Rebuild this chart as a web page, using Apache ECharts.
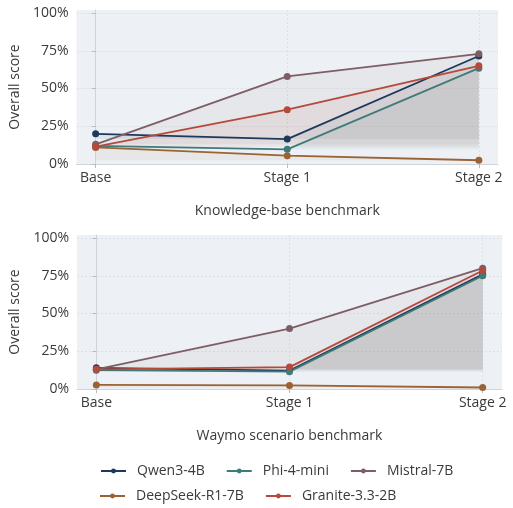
<!DOCTYPE html>
<html>
<head>
<meta charset="utf-8">
<script src="https://cdn.jsdelivr.net/npm/echarts@6/dist/echarts.min.js"></script>
<style>html,body{margin:0;padding:0;background:#fff}#c{width:513px;height:508px}</style>
</head>
<body>
<div id="c"></div>
<script>
const categories = ['Base', 'Stage 1', 'Stage 2'];
const models = ['Qwen3-4B', 'Phi-4-mini', 'Mistral-7B', 'DeepSeek-R1-7B', 'Granite-3.3-2B'];
const colors = ['#1d3a5c', '#3f7b79', '#7f5d66', '#9b6334', '#b5493c'];
const yTicks = [0, 0.25, 0.5, 0.75, 1];

// Knowledge-base benchmark
const kbQwen = [0.20, 0.165, 0.715];
const kbPhi = [0.12, 0.097, 0.635];
const kbMistral = [0.13, 0.58, 0.73];
const kbDeepSeek = [0.11, 0.055, 0.025];
const kbGranite = [0.115, 0.36, 0.65];

// Waymo scenario benchmark
const wmQwen = [0.14, 0.122, 0.76];
const wmPhi = [0.125, 0.115, 0.75];
const wmMistral = [0.13, 0.40, 0.80];
const wmDeepSeek = [0.027, 0.024, 0.01];
const wmGranite = [0.13, 0.145, 0.785];

const kbData = [kbQwen, kbPhi, kbMistral, kbDeepSeek, kbGranite];
const wmData = [wmQwen, wmPhi, wmMistral, wmDeepSeek, wmGranite];

const FONT = 'Open Sans';
const TXT = '#3a3a3a';

function xAxisCfg(gi, name) {
  return {
    type: 'value', gridIndex: gi, min: -0.1, max: 2.1,
    name: name, nameLocation: 'middle', nameGap: 40,
    nameTextStyle: {fontFamily: FONT, fontSize: 14, color: TXT},
    axisLine: {show: true, lineStyle: {color: '#d0d4da', width: 1}},
    axisTick: {show: true, length: 4, customValues: [0, 1, 2], lineStyle: {color: '#b8bcc2'}},
    axisLabel: {customValues: [0, 1, 2], formatter: v => categories[Math.round(v)], margin: 7,
      fontFamily: FONT, fontSize: 14, color: TXT},
    splitLine: {show: true, lineStyle: {color: '#dde1e7', type: [2, 2]}}
  };
}
function yAxisCfg(gi) {
  return {
    type: 'value', gridIndex: gi, min: 0, max: 1.02,
    name: 'Overall score', nameLocation: 'middle', nameGap: 47,
    nameTextStyle: {fontFamily: FONT, fontSize: 14, color: TXT},
    axisLine: {show: true, lineStyle: {color: '#d0d4da', width: 1}},
    axisTick: {show: true, length: 4, customValues: yTicks, lineStyle: {color: '#b8bcc2'}},
    axisLabel: {customValues: yTicks, formatter: v => Math.round(v * 100) + '%', margin: 8,
      fontFamily: FONT, fontSize: 14, color: TXT},
    splitLine: {show: true, lineStyle: {color: '#dde1e7', type: [2, 2]}}
  };
}
function makeSeries(data, gi) {
  return data.map((vals, i) => ({
    name: models[i], type: 'line', xAxisIndex: gi, yAxisIndex: gi,
    data: vals.map((v, k) => [k, v]),
    symbol: 'circle', symbolSize: 7,
    lineStyle: {width: 1.8, color: colors[i]},
    itemStyle: {color: colors[i]},
    areaStyle: {color: colors[i], opacity: 0.07, origin: Math.min(...vals)},
    emphasis: {disabled: true}
  }));
}

const legendText = {fontFamily: FONT, fontSize: 14, color: TXT, padding: [0, 0, 0, 6]};
const chart = echarts.init(document.getElementById('c'), null, {renderer: 'canvas'});
chart.setOption({
  animation: false,
  grid: [
    {left: 74, top: 10, width: 424, height: 154, show: true, backgroundColor: '#edf1f5', borderWidth: 0},
    {left: 77, top: 235, width: 425, height: 154, show: true, backgroundColor: '#edf1f5', borderWidth: 0}
  ],
  xAxis: [xAxisCfg(0, 'Knowledge-base benchmark'), xAxisCfg(1, 'Waymo scenario benchmark')],
  yAxis: [yAxisCfg(0), yAxisCfg(1)],
  legend: [
    {data: models.slice(0, 3), left: 95, top: 459, itemWidth: 25, itemHeight: 6, itemGap: 21, textStyle: legendText},
    {data: models.slice(3), left: 94, top: 484, itemWidth: 25, itemHeight: 6, itemGap: 21, textStyle: legendText}
  ],
  series: makeSeries(kbData, 0).concat(makeSeries(wmData, 1))
});
</script>
</body>
</html>
